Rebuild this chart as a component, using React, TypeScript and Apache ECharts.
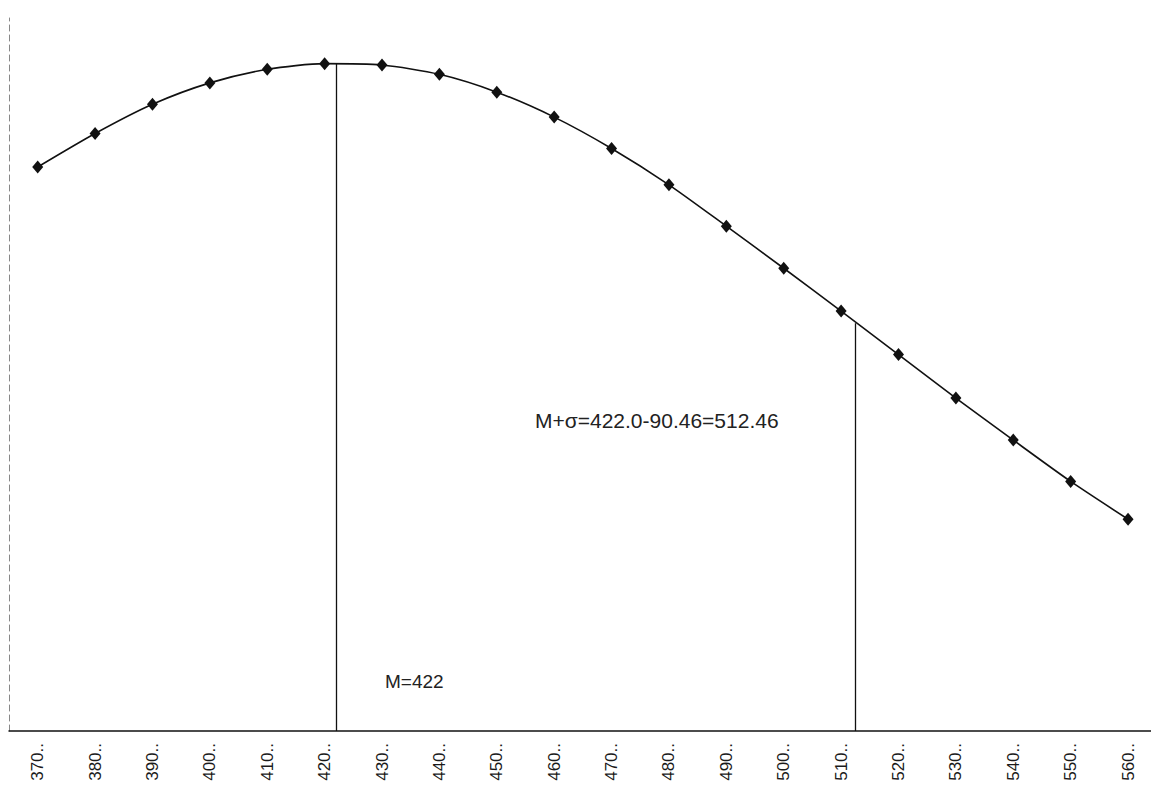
import React, { useEffect, useRef } from "react";
import * as echarts from "echarts";

// Score classes (x) and relative frequency of the fitted curve (y)
const xValues = [370, 380, 390, 400, 410, 420, 430, 440, 450, 460, 470, 480, 490, 500, 510, 520, 530, 540, 550, 560];
const yValues = [0.791, 0.838, 0.879, 0.909, 0.928, 0.936, 0.934, 0.921, 0.896, 0.861, 0.817, 0.766, 0.708, 0.649, 0.589, 0.528, 0.467, 0.408, 0.35, 0.297];
const tickLabels = ["370..", "380..", "390..", "400..", "410..", "420..", "430..", "440..", "450..", "460..", "470..", "480..", "490..", "500..", "510..", "520..", "530..", "540..", "550..", "560.."];

// Vertical reference lines: mean and mean + sigma, with the curve height where they stop
const refX = [422, 512.46];
const refTop = [0.936, 0.572];
const refTexts = ["M=422", "M+σ=422.0-90.46=512.46"];

export default function App() {
  const ref = useRef<HTMLDivElement>(null);
  useEffect(() => {
    if (!ref.current) return;
    const chart = echarts.init(ref.current, null, { renderer: "svg" });
    const font = "'Liberation Sans', Arial, sans-serif";
    chart.setOption({
      animation: false,
      backgroundColor: "#ffffff",
      grid: { left: 9, right: 0, top: 18, bottom: 59, containLabel: false },
      xAxis: {
        type: "value",
        min: 365,
        max: 564,
        splitLine: { show: false },
        axisTick: { show: false },
        axisLine: { show: true, onZero: false, lineStyle: { color: "#111", width: 1.5 } },
        axisLabel: {
          customValues: xValues,
          rotate: 90,
          margin: 12,
          color: "#1a1a1a",
          fontSize: 17,
          fontFamily: font,
          formatter: (v: number) => {
            const i = xValues.indexOf(v);
            return i >= 0 ? tickLabels[i] : "";
          },
        },
      },
      yAxis: {
        type: "value",
        min: 0,
        max: 1,
        splitLine: { show: false },
        axisTick: { show: false },
        axisLabel: { show: false },
        axisLine: { show: true, lineStyle: { color: "#888", width: 1, type: [6, 4] } },
      },
      graphic: [
        {
          type: "text",
          left: 385,
          top: 672,
          style: { text: refTexts[0], fill: "#222", fontSize: 19, fontFamily: font },
        },
        {
          type: "text",
          left: 535,
          top: 410,
          style: { text: refTexts[1], fill: "#222", fontSize: 21, fontFamily: font },
        },
      ],
      series: [
        {
          type: "line",
          data: xValues.map((x, i) => [x, yValues[i]]),
          smooth: 0.25,
          symbol: "diamond",
          symbolSize: [11, 13],
          itemStyle: { color: "#111" },
          lineStyle: { color: "#111", width: 1.6 },
          markLine: {
            silent: true,
            symbol: "none",
            label: { show: false },
            lineStyle: { color: "#111", width: 1.3, type: "solid" },
            data: refX.map((x, i) => [{ coord: [x, refTop[i]] }, { coord: [x, 0] }]),
          },
        },
      ],
    });
    return () => chart.dispose();
  }, []);
  return <div ref={ref} style={{ position: "fixed", left: 0, top: 0, width: 1151, height: 790 }} />;
}
